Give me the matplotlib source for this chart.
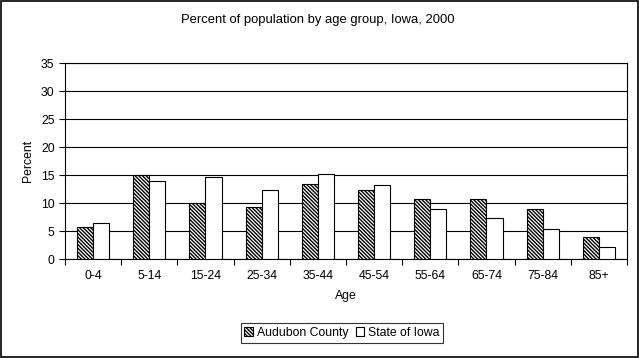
import numpy as np
import matplotlib.pyplot as plt
from matplotlib.patches import Rectangle

ages = ['0-4', '5-14', '15-24', '25-34', '35-44', '45-54', '55-64', '65-74', '75-84', '85+']
audubon = [5.8, 15.0, 10.0, 9.2, 13.4, 12.3, 10.7, 10.7, 8.9, 3.9]
iowa = [6.4, 13.9, 14.6, 12.3, 15.1, 13.2, 8.9, 7.3, 5.3, 2.1]

plt.rcParams['font.family'] = ['Liberation Sans', 'DejaVu Sans']
plt.rcParams['hatch.linewidth'] = 1.0

fig = plt.figure(figsize=(6.39, 3.58), dpi=100)
ax = fig.add_axes([0.1017, 0.2765, 0.8795, 0.5475])

x = np.arange(len(ages))
w = 0.285
ax.bar(x - w / 2, audubon, w, color='white', edgecolor='black', hatch='\\' * 9,
       linewidth=0.8, label='Audubon County', zorder=3)
ax.bar(x + w / 2, iowa, w, color='white', edgecolor='black',
       linewidth=0.8, label='State of Iowa', zorder=3)

ax.set_xlim(-0.5, len(ages) - 0.5)
ax.set_ylim(0, 35)
ax.set_yticks(range(0, 36, 5))
ax.yaxis.grid(True, color='black', linewidth=0.8, zorder=0)
ax.set_xticks(x)
ax.set_xticklabels(ages)
ax.set_xticks(np.arange(-0.5, len(ages)), minor=True)
ax.tick_params(axis='x', which='major', length=0, pad=8, labelsize=8.8)
ax.tick_params(axis='x', which='minor', length=4, width=0.8)
ax.tick_params(axis='y', length=4, width=0.8, labelsize=8.8)
for s in ax.spines.values():
    s.set_linewidth(0.8)

ax.set_ylabel('Percent', fontsize=8.8, labelpad=5)
ax.set_xlabel('Age', fontsize=8.8, labelpad=6)
fig.text(0.497, 0.945, 'Percent of population by age group, Iowa, 2000',
         ha='center', va='center', fontsize=9.4)

leg = fig.legend(loc='center', bbox_to_anchor=(0.535, 0.07), ncol=2, fontsize=8.8,
                 frameon=True, fancybox=False, edgecolor='black',
                 handlelength=0.7, handleheight=0.7, handletextpad=0.3,
                 columnspacing=0.6, borderpad=0.3)
leg.get_frame().set_linewidth(0.8)

fig.patches.append(Rectangle((0.002, 0.003), 0.996, 0.994, transform=fig.transFigure,
                             fill=False, edgecolor='black', linewidth=1.2))

fig.savefig('out.png', dpi=100)
